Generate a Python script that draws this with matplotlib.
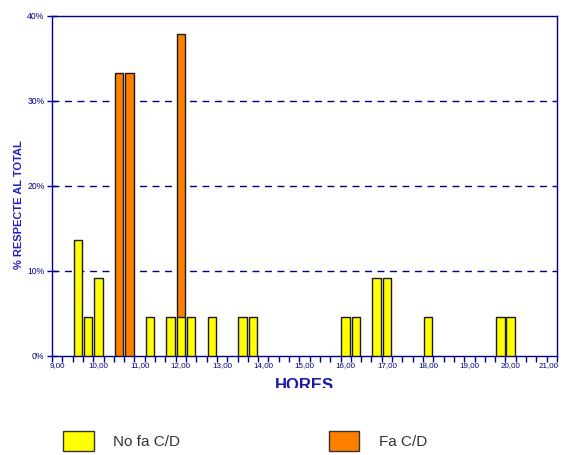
import matplotlib
matplotlib.use("Agg")
import matplotlib.pyplot as plt
import matplotlib.transforms as mtransforms
from matplotlib.patches import Patch, Rectangle

plt.rcParams['font.family'] = ['Liberation Sans', 'DejaVu Sans']

# 15-minute slots from 9:00 to 21:00
slot_labels = [f"{h},{m:02d}" for h in range(9, 22) for m in (0, 15, 30, 45)][:49]
hour_labels = [f"{h},00" for h in range(9, 22)]

# "No fa C/D" (yellow) values, % of total
no_fa_slots = ["9,30", "9,45", "10,00", "11,15", "11,45", "12,00", "12,15", "12,45",
               "13,30", "13,45", "16,00", "16,15", "16,45", "17,00", "18,00", "19,45", "20,00"]
no_fa_vals = [13.6, 4.5, 9.1, 4.5, 4.5, 4.5, 4.5, 4.5,
              4.5, 4.5, 4.5, 4.5, 9.1, 9.1, 4.5, 4.5, 4.5]

# "Fa C/D" (orange) values, % of total
fa_slots = ["10,30", "10,45", "12,00"]
fa_vals = [33.3, 33.3, 37.9]

navy = '#000080'
fig = plt.figure(figsize=(5.61, 4.55), dpi=100)
ax = fig.add_axes([52/561, 1-355.5/455, (557-52)/561, (355.5-15.7)/455])

idx = {s: i for i, s in enumerate(slot_labels)}
ax.bar([idx[s] for s in fa_slots], fa_vals, width=0.82, color='#FF8000',
       edgecolor='#1a1a1a', linewidth=1, zorder=3)
ax.bar([idx[s] for s in no_fa_slots], no_fa_vals, width=0.82, color='#FFFF00',
       edgecolor='#1a1a1a', linewidth=1, zorder=4)

ax.set_xlim(-0.5, len(slot_labels) - 0.5)
ax.set_ylim(0, 40)

# grid
for y in (10, 20, 30):
    ax.axhline(y, color=navy, linestyle=(0, (5, 4)), linewidth=1, zorder=1)

for sp in ax.spines.values():
    sp.set_color(navy)
    sp.set_linewidth(1)

# x ticks: marks at slot boundaries, labels at each hour
ax.set_xticks([i - 0.5 for i in range(len(slot_labels) + 1)])
ax.set_xticklabels([])
ax.tick_params(axis='x', which='major', direction='out', length=4, color=navy, width=1)
ax.set_xticks([idx[h] for h in hour_labels], minor=True)
ax.set_xticklabels(hour_labels, minor=True)
ax.tick_params(axis='x', which='minor', length=0, pad=5, labelsize=5.8, labelcolor=navy)

ax.set_yticks([0, 10, 20, 30, 40])
ax.set_yticklabels(['0%', '10%', '20%', '30%', '40%'])
ax.tick_params(axis='y', direction='inout', length=7, color=navy, width=1,
               labelsize=6.2, labelcolor=navy, pad=2)

ax.set_ylabel('% RESPECTE AL TOTAL', fontsize=8, fontweight='bold', color='#2020c8')
ax.yaxis.set_label_coords(-0.055, 0.443)
ax.set_xlabel('HORES', fontsize=12, fontweight='bold', color='#1a1aa6', labelpad=6)

# nudge last hour label so it stays inside the figure
fig.canvas.draw()
last = ax.xaxis.get_minorticklabels()[-1]
last.set_transform(last.get_transform() + mtransforms.ScaledTranslation(-3/100, 0, fig.dpi_scale_trans))

# clip bottom of x label like reference
fig.patches.append(Rectangle((0, 1-420/455), 1, (420-388)/455, transform=fig.transFigure,
                             facecolor='white', edgecolor='none', zorder=5))

handles = [Patch(facecolor='#FFFF00', edgecolor='#333333', linewidth=1),
           Patch(facecolor='#FF8000', edgecolor='#333333', linewidth=1)]
leg = fig.legend(handles, ['No fa C/D', 'Fa C/D'], ncol=2, loc='center left',
                 bbox_to_anchor=(63/561, 1-441/455), frameon=False, fontsize=11,
                 handlelength=2.0, handleheight=1.6, handletextpad=1.3,
                 columnspacing=9.7, borderpad=0, borderaxespad=0)
for t in leg.get_texts():
    t.set_color('#333333')

fig.savefig('out.png', dpi=100)
